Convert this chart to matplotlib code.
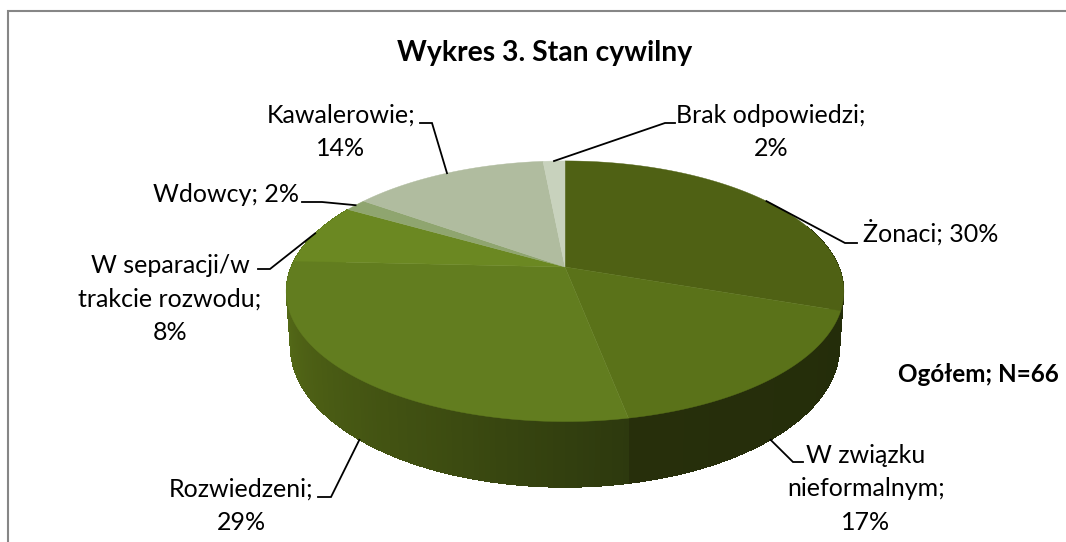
import numpy as np
import matplotlib
matplotlib.use("Agg")
import matplotlib.pyplot as plt
from matplotlib.colors import to_rgb
from matplotlib.patches import Polygon

title = "Wykres 3. Stan cywilny"
total_label = "Ogółem; N=66"
labels = ["Żonaci; 30%", "W związku\nnieformalnym;\n17%", "Rozwiedzeni;\n29%",
          "W separacji/w\ntrakcie rozwodu;\n8%", "Wdowcy; 2%", "Kawalerowie;\n14%",
          "Brak odpowiedzi;\n2%"]
counts = [20, 11, 19, 5, 1, 9, 1]   # N=66, matches the printed percentages

top_colors = ["#4F6114", "#5A7219", "#627D1F", "#6B8822", "#8FA56F", "#B0BC9F", "#C8D2BD"]

# label centre, elbow, end of leader (pixels), and whether the leader starts on the lower rim
label_pos = [(931, 232), (866, 489), (241, 506), (170, 299), (226, 195), (341, 132), (771, 132)]
elbows = [((845, 243), (857, 243)), ((793, 462), (803, 462)), ((331, 497), (318, 497)),
          ((270, 269), (258, 269)), ((322, 202), (302, 202)), ((432, 123), (420, 123)),
          ((665, 123), (675, 123))]
lower_rim = [False, True, True, False, False, False, False]

# pie geometry, pixels
CX, CY, RX, RY, K, DEPTH = 565, 267, 274, 125.8, 0.186, 53.5

plt.rcParams['font.family'] = ['Lato', 'DejaVu Sans']


def rim(deg, low=False):
    """clockwise angle from 12 o'clock -> point on the perspective disc"""
    t = np.radians(deg)
    u, v = np.sin(t), np.cos(t)
    w = 1 + K * v
    x = CX + RX * u / w
    y = CY - RY * v / w
    if low:
        x = CX + (x - CX) * 0.985
        y = y + DEPTH / w
    return np.column_stack([x, y])


def side_color(deg):
    stops = [108, 168.9, 169, 200, 240, 285]
    cols = ["#242D0A", "#272F0B", "#2D390E", "#3D4C11", "#4E6115", "#607C1C"]
    rgb = np.array([to_rgb(c) for c in cols])
    return [np.interp(deg, stops, rgb[:, i]) for i in range(3)]


fig = plt.figure(figsize=(10.66, 5.42), dpi=100)
ax = fig.add_axes([0, 0, 1, 1])
ax.set_xlim(0, 1066)
ax.set_ylim(542, 0)
ax.axis("off")

# frame: only top and left show in the crop
ax.plot([8, 8, 1066], [542, 10.5, 10.5], color="#868686", lw=1.5, solid_joinstyle="miter")

edges = np.cumsum([0] + counts) / sum(counts) * 360

# side wall, back to front. aliased on purpose, the reference edge is jagged too
steps = np.arange(70, 300, 1.0)
order = steps[np.argsort(-np.abs(steps - 180))]
for a in order:
    seg = np.array([a, a + 1.0])
    pts = np.vstack([rim(seg), rim(seg, True)[::-1]])
    ax.add_patch(Polygon(pts, closed=True, fc=side_color(a), ec="none",
                         antialiased=False, zorder=2))

# top surface
for i, col in enumerate(top_colors):
    arc = rim(np.linspace(edges[i], edges[i + 1], 120))
    pts = np.vstack([[CX, CY], arc])
    ax.add_patch(Polygon(pts, closed=True, fc=col, ec=col, lw=0.3, zorder=3))

# leaders
mids = (edges[:-1] + edges[1:]) / 2
for i, m in enumerate(mids):
    start = rim(np.array([m]), lower_rim[i])[0]
    xs = [start[0], elbows[i][0][0], elbows[i][1][0]]
    ys = [start[1], elbows[i][0][1], elbows[i][1][1]]
    ax.plot(xs, ys, color="black", lw=1.3, zorder=4, solid_joinstyle="miter")

for txt, (x, y) in zip(labels, label_pos):
    ax.text(x, y, txt, ha="center", va="center", fontsize=18, linespacing=1.54,
            color="black", zorder=5)

ax.text(545, 53, title, ha="center", va="center", fontsize=20.4, fontweight="bold")
ax.text(978, 375, total_label, ha="center", va="center", fontsize=17.5, fontweight="bold")

fig.savefig("out.png", dpi=100)
